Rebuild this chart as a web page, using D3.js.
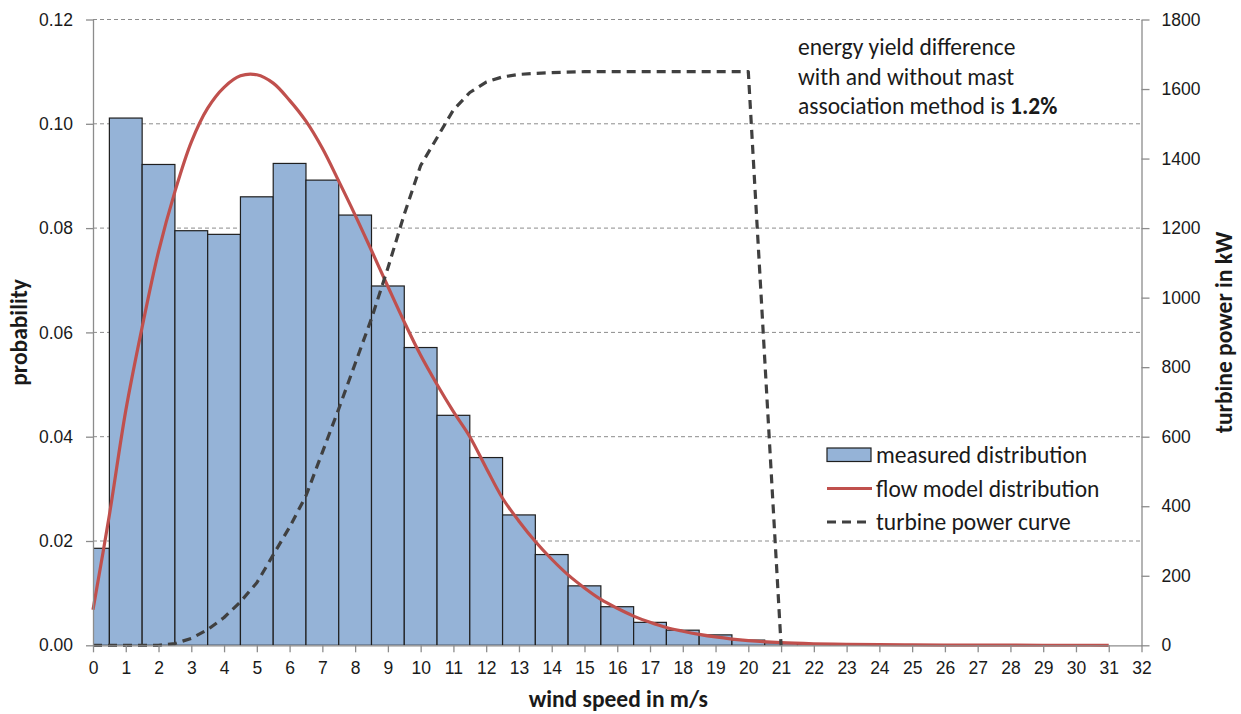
<!DOCTYPE html>
<html>
<head>
<meta charset="utf-8">
<script src="https://cdn.jsdelivr.net/npm/d3@7"></script>
<style>
  html, body { margin: 0; padding: 0; background: #fff; }
  svg { display: block; font-family: Carlito, Lato, "Open Sans", sans-serif; }
</style>
</head>
<body>
<svg id="chart" width="1241" height="714"></svg>
<script>
// Measured wind speed frequency per 1 m/s bin (bins centred on whole speeds)
const binSpeeds = d3.range(0, 28);
const measuredProb = [0.0186, 0.1011, 0.0922, 0.0795, 0.0788, 0.0860, 0.0924, 0.0892,
  0.0825, 0.0689, 0.0571, 0.0441, 0.0360, 0.0250, 0.0174, 0.0114, 0.0074, 0.0044,
  0.0029, 0.0020, 0.0010, 0.0005, 0.0003, 0.0002, 0.0001, 0.0001, 0.0001, 0.0001];

// Flow model distribution
const modelSpeeds = [0, 0.5, 1, 1.5, 2, 2.5, 3, 3.5, 4, 4.5, 5, 5.5, 6, 6.5, 7, 7.5, 8, 8.5,
  9, 9.5, 10, 10.5, 11, 11.5, 12, 12.5, 13, 13.5, 14, 14.5, 15, 15.5, 16, 16.5, 17, 17.5,
  18, 18.5, 19, 19.5, 20, 21, 22, 23, 24, 25, 26, 27, 28, 29, 30, 31];
const modelProb = [0.0068, 0.025, 0.045, 0.061, 0.0755, 0.087, 0.0965, 0.1030, 0.1070,
  0.1092, 0.1094, 0.1078, 0.1045, 0.1005, 0.0953, 0.0890, 0.0825, 0.0757, 0.0688, 0.0620,
  0.0556, 0.0500, 0.0448, 0.0400, 0.0340, 0.0282, 0.0238, 0.0199, 0.0165, 0.0135, 0.0110,
  0.0088, 0.0071, 0.0056, 0.0044, 0.0034, 0.0027, 0.0021, 0.0016, 0.0012, 0.0009, 0.0005,
  0.0003, 0.0002, 0.00012, 0.00008, 0.00005, 0.00003, 0.00002, 0.00001, 0.00001, 0.0];

// Turbine power curve (kW)
const powerSpeeds = [0, 0.5, 1, 1.5, 2, 2.5, 3, 3.5, 4, 4.5, 5, 5.5, 6, 6.5, 7, 7.5, 8, 8.5,
  9, 9.5, 10, 10.5, 11, 11.5, 12, 12.5, 13, 13.5, 14, 15, 16, 17, 18, 19, 20, 21];
const powerKW = [0, 0, 0, 0, 0, 5, 20, 45, 80, 125, 180, 260, 340, 430, 555, 680, 810, 940,
  1085, 1240, 1380, 1460, 1540, 1590, 1620, 1635, 1642, 1645, 1647, 1650, 1650, 1650, 1650,
  1650, 1650, 0];

const xTicks = d3.range(0, 33);
const leftTicks = [0, 0.02, 0.04, 0.06, 0.08, 0.10, 0.12];
const rightTicks = d3.range(0, 1801, 200);

const legendLabels = ["measured distribution", "flow model distribution", "turbine power curve"];
const noteLines = ["energy yield difference", "with and without mast", "association method is "];
const noteValue = "1.2%";

const svg = d3.select("#chart");
const plot = { left: 93, right: 1141.5, top: 19.5, bottom: 645.3 };

const x = d3.scaleLinear().domain([0, 32]).range([plot.left, plot.right]);
const yL = d3.scaleLinear().domain([0, 0.12]).range([plot.bottom, plot.top]);
const yR = d3.scaleLinear().domain([0, 1800]).range([plot.bottom, plot.top]);

const textColor = "#1a1a1a";
const axisColor = "#8c8c8c";
const labelSize = 23.5;

// horizontal gridlines
svg.append("g").selectAll("line").data(leftTicks.filter(d => d > 0)).join("line")
  .attr("x1", plot.left).attr("x2", plot.right)
  .attr("y1", d => yL(d)).attr("y2", d => yL(d))
  .attr("stroke", "#8c8c8c").attr("stroke-width", 1).attr("stroke-dasharray", "4,3");

// clip so the first bin starts at 0
svg.append("clipPath").attr("id", "plotClip").append("rect")
  .attr("x", plot.left).attr("y", 0).attr("width", plot.right - plot.left).attr("height", plot.bottom);

// measured distribution bars
svg.append("g").attr("clip-path", "url(#plotClip)").selectAll("rect")
  .data(binSpeeds.map((s, i) => ({ s, p: measuredProb[i] }))).join("rect")
  .attr("x", d => x(d.s - 0.5)).attr("width", d => x(d.s + 0.5) - x(d.s - 0.5))
  .attr("y", d => yL(d.p)).attr("height", d => yL(0) - yL(d.p))
  .attr("fill", "#95b3d7").attr("stroke", "#1f1f1f").attr("stroke-width", 1.2);

// flow model distribution
svg.append("path")
  .datum(modelSpeeds.map((s, i) => [s, modelProb[i]]))
  .attr("fill", "none").attr("stroke", "#c0504d").attr("stroke-width", 3.2)
  .attr("d", d3.line().x(d => x(d[0])).y(d => yL(d[1])).curve(d3.curveCatmullRom.alpha(0.5)));

// turbine power curve
svg.append("path")
  .datum(powerSpeeds.map((s, i) => [s, powerKW[i]]))
  .attr("fill", "none").attr("stroke", "#404040").attr("stroke-width", 3.2)
  .attr("stroke-dasharray", "9,6").attr("stroke-linejoin", "round")
  .attr("d", d3.line().x(d => x(d[0])).y(d => yR(d[1])));

// axes
const styleAxis = g => {
  g.select(".domain").attr("stroke", axisColor).attr("stroke-width", 1.3);
  g.selectAll(".tick line").attr("stroke", axisColor).attr("stroke-width", 1.3);
  g.selectAll(".tick text").attr("fill", textColor).attr("font-size", 17.5);
};

svg.append("g").attr("transform", `translate(0,${plot.bottom})`)
  .call(d3.axisBottom(x).tickValues(xTicks).tickFormat(d3.format("d")).tickSize(7).tickSizeOuter(0).tickPadding(7))
  .call(styleAxis).call(g => g.selectAll(".tick text").attr("dy", "0.85em"));

svg.append("g").attr("transform", `translate(${plot.left},0)`)
  .call(d3.axisLeft(yL).tickValues(leftTicks).tickFormat(d3.format(".2f")).tickSize(7).tickSizeOuter(0).tickPadding(13))
  .call(styleAxis);

svg.append("g").attr("transform", `translate(${plot.right},0)`)
  .call(d3.axisRight(yR).tickValues(rightTicks).tickFormat(d3.format("d")).tickSize(8).tickSizeOuter(0).tickPadding(12))
  .call(styleAxis);

// axis titles
svg.append("text").attr("x", (plot.left + plot.right) / 2 + 1).attr("y", 707)
  .attr("text-anchor", "middle").attr("font-weight", "bold").attr("font-size", labelSize)
  .attr("fill", textColor).text("wind speed in m/s");

svg.append("text").attr("transform", `translate(27,${(plot.top + plot.bottom) / 2}) rotate(-90)`)
  .attr("text-anchor", "middle").attr("font-weight", "bold").attr("font-size", labelSize)
  .attr("fill", textColor).text("probability");

svg.append("text").attr("transform", `translate(1232,${(plot.top + plot.bottom) / 2}) rotate(-90)`)
  .attr("text-anchor", "middle").attr("font-weight", "bold").attr("font-size", labelSize)
  .attr("fill", textColor).text("turbine power in kW");

// legend
const legend = svg.append("g").attr("transform", "translate(827,455)");
const rowGap = 33.5;
legend.append("rect").attr("x", 0).attr("y", -7).attr("width", 44).attr("height", 13.5)
  .attr("fill", "#95b3d7").attr("stroke", "#1f1f1f").attr("stroke-width", 1.2);
legend.append("line").attr("x1", 0).attr("x2", 45).attr("y1", rowGap).attr("y2", rowGap)
  .attr("stroke", "#c0504d").attr("stroke-width", 3.2);
legend.append("line").attr("x1", 0).attr("x2", 43).attr("y1", rowGap * 2).attr("y2", rowGap * 2)
  .attr("stroke", "#404040").attr("stroke-width", 3.2).attr("stroke-dasharray", "9,6");
legend.selectAll("text.lg").data(legendLabels).join("text").attr("class", "lg")
  .attr("x", 49).attr("y", (d, i) => i * rowGap).attr("dy", "0.35em")
  .attr("font-size", labelSize).attr("fill", textColor).text(d => d);

// annotation
const note = svg.append("text").attr("x", 798).attr("y", 55).attr("font-size", labelSize).attr("fill", textColor);
noteLines.forEach((line, i) => {
  note.append("tspan").attr("x", 798).attr("y", 55 + i * 29.5).text(line);
  if (i === noteLines.length - 1) {
    note.append("tspan").attr("font-weight", "bold").text(noteValue);
  }
});
</script>
</body>
</html>
